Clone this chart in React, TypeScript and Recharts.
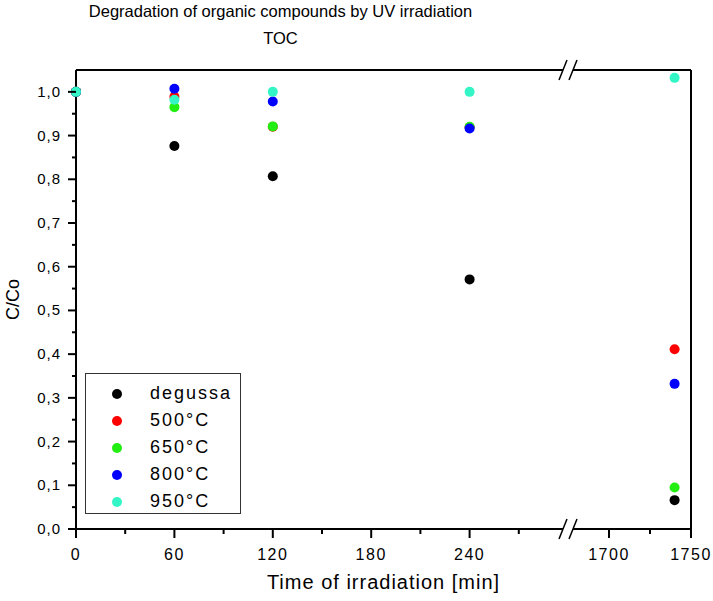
import { ScatterChart, Scatter, XAxis, YAxis, Legend, ReferenceLine } from "recharts";

// tempos de irradiação (min) e C/Co de cada amostra
const times = [0, 60, 120, 240, 1740];
const degussa = [1.0, 0.876, 0.807, 0.571, 0.066];
const c500 = [1.0, 0.989, 0.92, 0.919, 0.411];
const c650 = [1.0, 0.965, 0.921, 0.92, 0.095];
const c800 = [1.0, 1.007, 0.978, 0.916, 0.332];
const c950 = [1.0, 0.982, 1.0, 1.0, 1.032];

const seriesNames = ["degussa", "500°C", "650°C", "800°C", "950°C"];
const seriesColors = ["#000000", "#ff0000", "#22ee11", "#0000ff", "#33f5c5"];
const seriesValues = [degussa, c500, c650, c800, c950];

// eixo X quebrado: 0–300 e depois 1675–1750
const BREAK_AT = 300;
const BREAK_GAP = 1375;
const X_MAX = 1750;
const Y_MAX = 1.05;

const majorX = [0, 60, 120, 180, 240, 1700, 1750];
const minorX = [30, 90, 150, 210, 270, 1725];
const majorY = [0, 0.1, 0.2, 0.3, 0.4, 0.5, 0.6, 0.7, 0.8, 0.9, 1.0];
const minorY = [0.05, 0.15, 0.25, 0.35, 0.45, 0.55, 0.65, 0.75, 0.85, 0.95];

const FONT = '"Liberation Sans", Arial, sans-serif';

const toAxis = (t: number) => (t > BREAK_AT ? t - BREAK_GAP : t);
const fromAxis = (v: number) => (v > BREAK_AT ? v + BREAK_GAP : v);

const xTicks = [...majorX, ...minorX]
  .map(toAxis)
  .concat(BREAK_AT)
  .sort((a, b) => a - b);
const yTicks = [...majorY, ...minorY].sort((a, b) => a - b);

// as duas barras "//" da quebra
function Slashes({ x, y }: { x: number; y: number }) {
  return (
    <g>
      <line x1={x - 9} y1={y + 10} x2={x - 1} y2={y - 10} stroke="#000" strokeWidth={1.5} />
      <line x1={x + 1} y1={y + 10} x2={x + 9} y2={y - 10} stroke="#000" strokeWidth={1.5} />
    </g>
  );
}

function BottomTick(props: any) {
  const { x, y, payload } = props;
  const v = payload.value;
  if (v === BREAK_AT)
    return (
      <g>
        <rect x={x - 5} y={y - 2} width={10} height={4} fill="#fff" />
        <Slashes x={x} y={y} />
      </g>
    );
  const isMajor = majorX.map(toAxis).includes(v);
  return (
    <g>
      <line x1={x} y1={y} x2={x} y2={y + (isMajor ? 9 : 5)} stroke="#000" strokeWidth={2} />
      {isMajor && (
        <text
          x={x}
          y={y + 31}
          textAnchor="middle"
          fontSize={16}
          letterSpacing={1.5}
          fontFamily={FONT}
          fill="#000"
        >
          {fromAxis(v)}
        </text>
      )}
    </g>
  );
}

function LeftTick(props: any) {
  const { x, y, payload } = props;
  const v = payload.value;
  const isMajor = majorY.some((m) => Math.abs(m - v) < 1e-6);
  return (
    <g>
      <line x1={x} y1={y} x2={x - (isMajor ? 8 : 4)} y2={y} stroke="#000" strokeWidth={2} />
      {isMajor && (
        <text
          x={x - 15}
          y={y + 5}
          textAnchor="end"
          fontSize={15}
          letterSpacing={1}
          fontFamily={FONT}
          fill="#000"
        >
          {v.toFixed(1).replace(".", ",")}
        </text>
      )}
    </g>
  );
}

function LegendBox() {
  return (
    <div
      style={{
        width: 156,
        height: 141,
        border: "1.5px solid #333",
        background: "#fff",
        paddingTop: 6,
        boxSizing: "border-box",
        fontFamily: FONT,
      }}
    >
      {seriesNames.map((name, i) => (
        <div key={name} style={{ height: 27, display: "flex", alignItems: "center" }}>
          <span
            style={{
              width: 10,
              height: 10,
              borderRadius: "50%",
              background: seriesColors[i],
              marginLeft: 26,
            }}
          />
          <span style={{ marginLeft: 28, fontSize: 18, letterSpacing: 2, color: "#000" }}>
            {name}
          </span>
        </div>
      ))}
    </div>
  );
}

export default function App() {
  const data = seriesValues.map((vals) =>
    times.map((t, i) => ({ x: toAxis(t), y: vals[i] }))
  );
  const xEnd = toAxis(X_MAX);

  return (
    <div style={{ position: "absolute", left: 0, top: 0, width: 713, height: 601, background: "#fff" }}>
      <div
        style={{
          position: "absolute",
          left: 0,
          top: -2,
          width: 561,
          textAlign: "center",
          fontFamily: FONT,
          fontSize: 16.5,
          lineHeight: "27px",
          color: "#000",
        }}
      >
        Degradation of organic compounds by UV irradiation
        <br />
        TOC
      </div>
      <ScatterChart width={713} height={601} margin={{ top: 70, right: 21, left: 0, bottom: 0 }}>
        <XAxis
          dataKey="x"
          type="number"
          domain={[0, xEnd]}
          ticks={xTicks}
          interval={0}
          tickSize={0}
          tickMargin={0}
          tick={<BottomTick />}
          height={72}
          axisLine={{ stroke: "#000", strokeWidth: 2 }}
          label={{
            value: "Time of irradiation [min]",
            position: "insideBottom",
            offset: 12,
            style: { fontFamily: FONT, fontSize: 20, letterSpacing: 1, fill: "#000" },
          }}
        />
        <YAxis
          dataKey="y"
          type="number"
          domain={[0, Y_MAX]}
          ticks={yTicks}
          interval={0}
          tickSize={0}
          tickMargin={0}
          tick={<LeftTick />}
          width={76}
          axisLine={{ stroke: "#000", strokeWidth: 2 }}
          label={{
            value: "C/Co",
            angle: -90,
            position: "insideLeft",
            offset: 13,
            style: { textAnchor: "middle", fontFamily: FONT, fontSize: 18, fill: "#000" },
          }}
        />
        <YAxis
          yAxisId="right"
          orientation="right"
          type="number"
          domain={[0, Y_MAX]}
          allowDataOverflow
          tick={false}
          tickLine={false}
          width={1}
          axisLine={{ stroke: "#000", strokeWidth: 2 }}
        />
        {/* moldura superior, interrompida na quebra */}
        <ReferenceLine
          segment={[{ x: 0, y: Y_MAX }, { x: BREAK_AT - 3, y: Y_MAX }]}
          stroke="#000"
          strokeWidth={2}
          ifOverflow="visible"
        />
        <ReferenceLine
          segment={[{ x: BREAK_AT + 3, y: Y_MAX }, { x: xEnd, y: Y_MAX }]}
          stroke="#000"
          strokeWidth={2}
          ifOverflow="visible"
        />
        <ReferenceLine
          x={BREAK_AT}
          ifOverflow="visible"
          shape={(p: any) => <Slashes x={p.x1} y={Math.min(p.y1, p.y2)} />}
        />
        <Legend
          layout="vertical"
          align="center"
          verticalAlign="middle"
          content={() => <LegendBox />}
          wrapperStyle={{ left: 85, top: 373, width: 156, height: 141 }}
        />
        {data.map((pts, i) => (
          <Scatter
            key={seriesNames[i]}
            name={seriesNames[i]}
            data={pts}
            fill={seriesColors[i]}
            isAnimationActive={false}
            shape={(p: any) => <circle cx={p.cx} cy={p.cy} r={5} fill={seriesColors[i]} />}
          />
        ))}
      </ScatterChart>
    </div>
  );
}
